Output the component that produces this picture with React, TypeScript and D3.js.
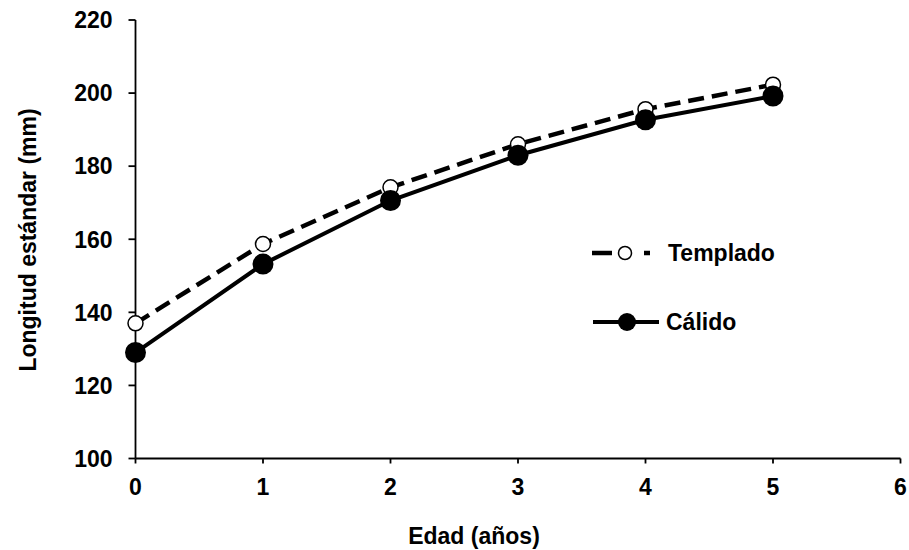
import React from "react";
import * as d3 from "d3";

const ages = [0, 1, 2, 3, 4, 5];
const templado = [137, 158.7, 174.2, 186, 195.6, 202.3];
const calido = [129, 153.2, 170.6, 183, 192.7, 199.2];
const xTicks = [0, 1, 2, 3, 4, 5, 6];
const yTicks = [100, 120, 140, 160, 180, 200, 220];

export default function App() {
  const W = 909, H = 550;
  const x = d3.scaleLinear().domain([0, 6]).range([135.5, 900.5]);
  const y = d3.scaleLinear().domain([100, 220]).range([458.5, 20]);
  const line = d3.line<number>().x((_, i) => x(ages[i])).y((d) => y(d));
  const font = "'Liberation Sans', Arial, sans-serif";
  return (
    <svg width={W} height={H} style={{ position: "absolute", left: 0, top: 0, background: "#fff" }}>
      <g fontFamily={font} fontWeight="bold" fill="#000">
        {/* axes */}
        <line x1={x(0)} x2={x(0)} y1={y(220)} y2={y(100)} stroke="#000" strokeWidth={1.8} />
        <line x1={x(0)} x2={x(6)} y1={y(100)} y2={y(100)} stroke="#000" strokeWidth={1.8} />
        {yTicks.map((t) => (
          <g key={"y" + t}>
            <line x1={x(0) - 7} x2={x(0)} y1={y(t)} y2={y(t)} stroke="#000" strokeWidth={1.8} />
            <text x={x(0) - 23} y={y(t)} dy="0.36em" textAnchor="end" fontSize={23}>{t}</text>
          </g>
        ))}
        {xTicks.map((t) => (
          <g key={"x" + t}>
            <line x1={x(t)} x2={x(t)} y1={y(100)} y2={y(100) + 5} stroke="#000" strokeWidth={1.8} />
            <text x={x(t)} y={y(100) + 36} textAnchor="middle" fontSize={23}>{t}</text>
          </g>
        ))}
        <text x={474} y={544} textAnchor="middle" fontSize={23}>Edad (años)</text>
        <text transform={`translate(36,240) rotate(-90)`} textAnchor="middle" fontSize={23}>Longitud estándar (mm)</text>

        {/* Templado */}
        <path d={line(templado) || ""} fill="none" stroke="#000" strokeWidth={4.5} strokeDasharray="16,8" />
        {templado.map((v, i) => (
          <circle key={"t" + i} cx={x(ages[i])} cy={y(v)} r={7.5} fill="#fff" stroke="#000" strokeWidth={1.5} />
        ))}
        {/* Cálido */}
        <path d={line(calido) || ""} fill="none" stroke="#000" strokeWidth={4} />
        {calido.map((v, i) => (
          <circle key={"c" + i} cx={x(ages[i])} cy={y(v)} r={10.5} fill="#000" />
        ))}

        {/* legend */}
        <line x1={592} x2={662} y1={253} y2={253} stroke="#000" strokeWidth={4.5} strokeDasharray="20,8,9,15,6,20" />
        <circle cx={625} cy={253} r={6.5} fill="#fff" stroke="#000" strokeWidth={1.5} />
        <text x={668} y={253} dy="0.36em" fontSize={23}>Templado</text>
        <line x1={593} x2={659} y1={322} y2={322} stroke="#000" strokeWidth={4} />
        <circle cx={627} cy={322} r={9} fill="#000" />
        <text x={666} y={322} dy="0.36em" fontSize={23}>Cálido</text>
      </g>
    </svg>
  );
}
